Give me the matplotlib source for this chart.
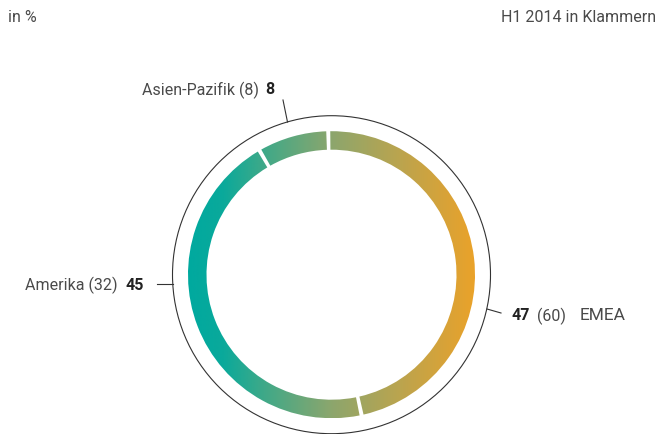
import numpy as np
import matplotlib
matplotlib.use("Agg")
import matplotlib.pyplot as plt
from matplotlib.patches import Wedge, Circle
from matplotlib.colors import LinearSegmentedColormap

# regions, share in % (current) and H1 2014 in brackets
regions = ["EMEA", "Amerika", "Asien-Pazifik"]
values = [47, 45, 8]
previous = [60, 32, 8]

plt.rcParams['font.family'] = ['Roboto', 'DejaVu Sans']
TXT = "#4a4a4a"
WT = "normal"

W, H = 666, 435
fig = plt.figure(figsize=(W / 100, H / 100), dpi=100)
ax = fig.add_axes([0, 0, 1, 1])
ax.set_xlim(0, W)
ax.set_ylim(0, H)
ax.set_aspect("equal")
ax.axis("off")

cx, cy = 331.5, H - 275.7
r_out, r_in = 143.5, 125
r_circle = 159

# gradient teal -> orange, left to right
cmap = LinearSegmentedColormap.from_list(
    "ring", [(0, "#00a99f"), (0.12, "#0aa99b"), (0.25, "#3aa98a"),
             (0.5, "#8ca66d"), (0.75, "#bda44d"), (1, "#eaa22a")])
grad = np.linspace(0, 1, 256).reshape(1, -1)

start = 91.3
gap = 0.8
theta = start
for v in values:
    span = v / sum(values) * 360
    w = Wedge((cx, cy), r_out, theta - span + gap, theta - gap, width=r_out - r_in,
              facecolor="none", edgecolor="none")
    ax.add_patch(w)
    im = ax.imshow(grad, cmap=cmap, extent=[cx - r_out, cx + r_out, cy - r_out, cy + r_out],
                   aspect="auto", interpolation="bilinear")
    im.set_clip_path(w)
    theta -= span

ax.add_patch(Circle((cx, cy), r_circle, facecolor="none", edgecolor="#333333", lw=0.8))
ax.set_xlim(0, W)
ax.set_ylim(0, H)

# leader lines
ax.plot([283, 287.5], [H - 101, H - 123], color="#333333", lw=0.8)
ax.plot([157, 172.5], [H - 285, H - 285], color="#333333", lw=0.8)
ax.plot([487, 501], [H - 310, H - 314], color="#333333", lw=0.8)

fs = 11.5
ax.text(8, H - 18, "in %", fontsize=fs, color=TXT, fontweight=WT, va="center", ha="left")
ax.text(656, H - 18, "H1 2014 in Klammern", fontsize=fs, color=TXT, fontweight=WT,
        va="center", ha="right")

# Asien-Pazifik
ax.text(259, H - 90, f"{regions[2]} ({previous[2]})", fontsize=fs, color=TXT, fontweight=WT,
        va="center", ha="right")
ax.text(265, H - 90, f"{values[2]}", fontsize=fs, color="#222222", fontweight="bold",
        va="center", ha="left")

# Amerika
ax.text(118, H - 285, f"{regions[1]} ({previous[1]})", fontsize=fs, color=TXT, fontweight=WT,
        va="center", ha="right")
ax.text(126, H - 285, f"{values[1]}", fontsize=fs, color="#222222", fontweight="bold",
        va="center", ha="left")

# EMEA
ax.text(512, H - 316, f"{values[0]}", fontsize=fs, color="#222222", fontweight="bold",
        va="center", ha="left")
ax.text(537, H - 316, f"({previous[0]})", fontsize=fs, color=TXT, fontweight=WT,
        va="center", ha="left")
ax.text(580, H - 316, regions[0], fontsize=fs + 1, color=TXT, fontweight=WT,
        va="center", ha="left")

fig.savefig("out.png", dpi=100)
